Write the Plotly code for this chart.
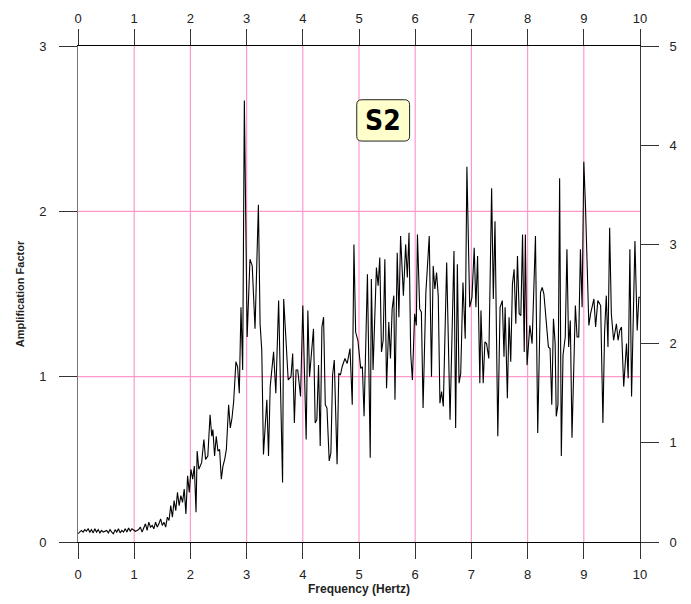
import plotly.graph_objects as go

freq = [0.00,0.03,0.06,0.09,0.12,0.15,0.18,0.21,0.24,0.27,0.30,0.33,0.36,0.39,0.42,0.45,0.48,0.51,0.54,0.57,
        0.60,0.63,0.66,0.69,0.72,0.75,0.78,0.81,0.84,0.87,0.90,0.93,0.96,0.99,1.02,1.05,1.08,1.11,1.14,1.17,
        1.20,1.23,1.26,1.29,1.32,1.35,1.38,1.41,1.44,1.47,1.50,1.53,1.56,1.59,1.62,1.65,1.68,1.71,1.74,1.77,
        1.80,1.83,1.86,1.89,1.92,1.95,1.98,2.01,2.04,2.07,2.10,2.12,2.15,2.20,2.24,2.27,2.31,2.35,2.38,2.40,
        2.43,2.46,2.49,2.52,2.55,2.58,2.61,2.64,2.68,2.71,2.74,2.77,2.81,2.84,2.87,2.90,2.93,2.96,3.01,3.06,
        3.10,3.15,3.21,3.24,3.27,3.30,3.36,3.39,3.42,3.48,3.52,3.57,3.64,3.66,3.70,3.74,3.79,3.82,3.85,3.88,
        3.91,3.96,4.00,4.06,4.09,4.12,4.19,4.22,4.25,4.28,4.31,4.34,4.37,4.40,4.43,4.47,4.50,4.53,4.56,4.61,
        4.64,4.67,4.70,4.75,4.79,4.84,4.88,4.91,4.94,4.98,5.03,5.06,5.09,5.15,5.20,5.22,5.25,5.31,5.34,5.37,
        5.40,5.43,5.46,5.49,5.53,5.56,5.59,5.62,5.64,5.68,5.71,5.74,5.79,5.83,5.86,5.89,5.92,5.95,5.99,6.02,
        6.04,6.08,6.11,6.14,6.19,6.25,6.29,6.32,6.35,6.38,6.41,6.44,6.47,6.50,6.56,6.62,6.69,6.72,6.75,6.78,
        6.81,6.85,6.89,6.92,6.97,7.01,7.05,7.08,7.11,7.15,7.17,7.21,7.24,7.27,7.31,7.36,7.39,7.42,7.47,7.51,
        7.55,7.58,7.60,7.64,7.67,7.70,7.73,7.76,7.79,7.82,7.85,7.88,7.91,7.94,7.96,7.99,8.04,8.08,8.14,8.18,
        8.23,8.26,8.29,8.33,8.37,8.40,8.43,8.46,8.49,8.51,8.54,8.57,8.60,8.63,8.67,8.70,8.73,8.76,8.79,8.85,
        8.88,8.91,8.94,8.97,9.00,9.03,9.09,9.12,9.15,9.18,9.21,9.25,9.30,9.34,9.37,9.40,9.43,9.46,9.49,9.53,
        9.58,9.61,9.64,9.67,9.71,9.76,9.79,9.82,9.85,9.91,9.95,9.98,10.00]

amp = [0.05,0.06,0.07,0.06,0.075,0.065,0.08,0.06,0.075,0.055,0.08,0.06,0.075,0.055,0.07,0.06,0.065,0.07,0.055,0.075,
       0.06,0.05,0.075,0.06,0.08,0.055,0.07,0.06,0.08,0.06,0.085,0.065,0.08,0.07,0.065,0.07,0.075,0.09,0.06,0.085,
       0.11,0.07,0.12,0.09,0.10,0.08,0.12,0.09,0.11,0.14,0.10,0.12,0.09,0.15,0.13,0.22,0.15,0.25,0.19,0.30,
       0.22,0.28,0.24,0.32,0.17,0.40,0.30,0.44,0.38,0.46,0.18,0.55,0.44,0.48,0.62,0.50,0.52,0.77,0.64,0.68,
       0.52,0.64,0.55,0.56,0.38,0.46,0.50,0.56,0.83,0.69,0.75,0.85,1.09,1.06,0.90,1.42,1.04,2.67,1.24,1.71,
       1.67,1.29,2.04,1.32,1.16,0.53,0.86,0.52,0.94,1.15,0.90,1.46,0.36,1.47,1.22,0.98,1.00,1.14,0.72,1.04,
       1.04,0.88,1.43,0.62,1.40,1.00,1.29,0.72,0.74,1.07,0.58,1.30,1.36,0.83,0.81,0.49,0.54,1.01,1.10,0.47,
       1.02,1.01,1.06,1.11,1.08,1.17,0.83,1.80,1.27,1.22,1.05,1.06,0.76,1.62,0.51,1.59,1.04,1.66,1.55,1.72,
       1.15,1.22,1.71,0.93,1.33,1.11,1.41,1.49,0.86,1.75,1.36,1.85,1.49,1.80,1.60,1.87,1.14,0.98,1.38,1.31,
       1.86,1.41,1.39,0.81,1.51,1.85,1.00,1.67,1.53,1.63,1.49,0.84,0.91,0.82,1.69,0.74,1.76,0.69,1.68,0.96,
       1.02,1.57,1.23,2.27,1.42,1.48,1.78,1.42,1.73,0.96,1.40,0.96,1.21,1.20,1.11,2.14,1.47,1.94,0.64,1.42,
       1.46,1.12,1.42,0.87,1.36,1.09,1.56,1.65,1.32,1.73,1.38,1.37,1.86,1.15,1.86,1.07,1.31,1.20,1.85,0.66,
       1.51,1.54,1.50,1.35,1.18,1.17,0.83,1.35,1.20,0.76,0.83,2.20,0.52,1.13,1.24,1.77,1.18,1.34,0.63,1.43,
       1.24,1.24,1.77,1.42,2.30,2.03,1.31,1.38,1.42,1.47,1.30,1.46,1.43,0.72,1.27,1.49,1.18,1.90,1.38,1.22,
       1.32,1.22,1.28,1.30,0.94,1.20,0.99,1.77,0.88,1.82,1.28,1.48,1.48]

x_ticks = list(range(0, 11))
y_left_ticks = [0, 1, 2, 3]
y_right_ticks = [0, 1, 2, 3, 4, 5]
x_range = [0, 10]
y_left_range = [0, 3]
y_right_range = [0, 5]
label_text = "S2"
x_title = "Frequency (Hertz)"
y_title = "Amplification Factor"

FONT = "Liberation Sans, Arial, sans-serif"
PINK = "#ff99cc"

fig = go.Figure()
fig.add_trace(go.Scatter(x=freq, y=amp, mode="lines",
                         line=dict(color="black", width=1.1),
                         showlegend=False, hoverinfo="skip",
                         xaxis="x", yaxis="y"))
# invisible helper so the top and right axes are drawn
fig.add_trace(go.Scatter(x=x_range, y=y_right_range, mode="markers",
                         marker=dict(opacity=0, size=1),
                         showlegend=False, hoverinfo="skip",
                         xaxis="x2", yaxis="y2"))

tick_font = dict(family=FONT, size=13, color="#222")

fig.update_layout(
    template="none",
    width=683, height=596,
    margin=dict(l=70, r=51, t=38, b=62, autoexpand=False),
    paper_bgcolor="white", plot_bgcolor="white",
    font=dict(family=FONT),
    showlegend=False,
    xaxis=dict(range=x_range, tickmode="array", tickvals=x_ticks,
               ticks="outside", ticklen=16, tickwidth=1, tickcolor="#333",
               showline=True, linecolor="black", linewidth=1,
               showgrid=False, zeroline=False,
               tickfont=tick_font, ticklabelstandoff=4, automargin=False,
               title=dict(text="<b>" + x_title + "</b>",
                          font=dict(family=FONT, size=12, color="#222"), standoff=0),
               fixedrange=True),
    xaxis2=dict(range=x_range, tickmode="array", tickvals=x_ticks,
                overlaying="x", side="top", anchor="y2",
                ticks="outside", ticklen=16, tickwidth=1, tickcolor="#333",
                showline=True, linecolor="black", linewidth=1,
                showgrid=False, zeroline=False,
                tickfont=tick_font, ticklabelstandoff=1, automargin=False,
                fixedrange=True),
    yaxis=dict(range=y_left_range, tickmode="array", tickvals=y_left_ticks,
               ticks="outside", ticklen=18, tickwidth=1, tickcolor="#333",
               showline=True, linecolor="#777", linewidth=1,
               showgrid=False, zeroline=False,
               tickfont=tick_font, ticklabelstandoff=10, automargin=False,
               title=dict(text="<b>" + y_title + "</b>",
                          font=dict(family=FONT, size=11, color="#222"), standoff=12),
               fixedrange=True),
    yaxis2=dict(range=y_right_range, tickmode="array", tickvals=y_right_ticks,
                overlaying="y", side="right", anchor="x2",
                ticks="outside", ticklen=18, tickwidth=1, tickcolor="#333",
                showline=True, linecolor="#403040", linewidth=1,
                showgrid=False, zeroline=False,
                tickfont=tick_font, ticklabelstandoff=8, automargin=False,
                fixedrange=True),
)

# pink grid drawn as layout lines at the tick positions
for t in x_ticks[1:-1]:
    fig.add_shape(type="line", xref="x", yref="paper", x0=t, x1=t, y0=0, y1=1,
                  line=dict(color=PINK, width=1.2), layer="below")
for t in y_left_ticks[1:-1]:
    fig.add_shape(type="line", xref="paper", yref="y", x0=0, x1=1, y0=t, y1=t,
                  line=dict(color=PINK, width=1.2), layer="below")

# rounded label box (layout decoration)
cx, cy, w, h = 5.43, 2.55, 0.94, 0.25
rx, ry = 0.09, 0.03
x0, x1, y0, y1 = cx - w / 2, cx + w / 2, cy - h / 2, cy + h / 2
path = (f"M {x0+rx},{y0} L {x1-rx},{y0} Q {x1},{y0} {x1},{y0+ry} "
        f"L {x1},{y1-ry} Q {x1},{y1} {x1-rx},{y1} L {x0+rx},{y1} "
        f"Q {x0},{y1} {x0},{y1-ry} L {x0},{y0+ry} Q {x0},{y0} {x0+rx},{y0} Z")
fig.add_shape(type="path", path=path, xref="x", yref="y",
              fillcolor="#ffffcc", line=dict(color="#222", width=1), layer="above")
fig.add_annotation(x=cx, y=cy, xref="x", yref="y", text="<b>" + label_text + "</b>",
                   showarrow=False,
                   font=dict(family="DejaVu Sans Condensed, Liberation Sans Narrow, " + FONT,
                             size=28, color="black"))

fig.write_html("out.html")
